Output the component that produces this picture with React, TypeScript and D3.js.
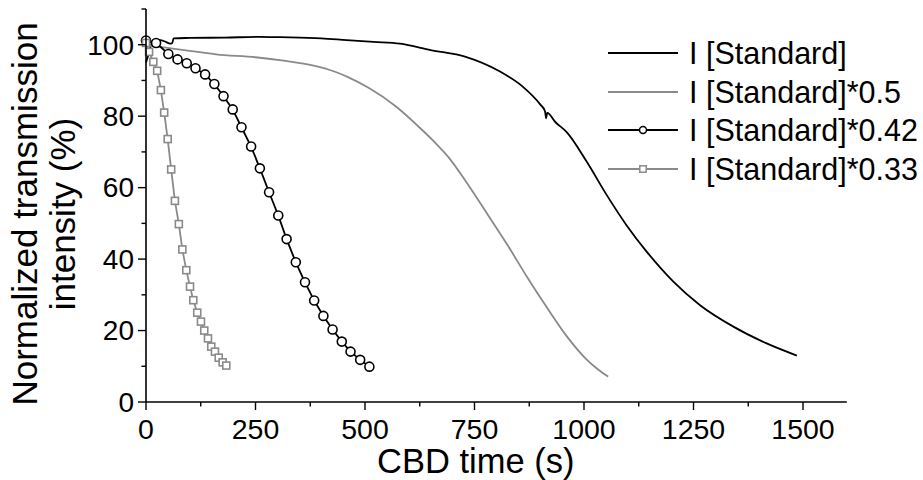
import React from "react";
import * as d3 from "d3";

// ---------- data ----------
const stdT = [0, 5, 12, 20, 32, 45, 55, 60, 63, 100, 180, 260, 306, 400, 458, 520, 580, 650, 730, 805, 858, 900, 911, 913.5, 916, 935, 960, 1006, 1052, 1097, 1143, 1204, 1265, 1341, 1417, 1486];
const stdV = [95, 97, 100, 101, 101.3, 100.8, 100.3, 100.5, 101.8, 101.9, 102, 102.2, 102.1, 101.8, 101.3, 100.8, 100.3, 98.5, 96.6, 92.7, 88.5, 83.3, 81.4, 79.4, 80.9, 78.3, 75.6, 67.3, 57.9, 49.5, 42.1, 33.7, 27.1, 21.1, 16.4, 13];

const halfT = [0, 30, 100, 160, 250, 310, 380, 430, 460, 510, 570, 630, 660, 690, 730, 780, 825, 870, 915, 960, 1005, 1030, 1055];
const halfV = [99.8, 99.4, 98.3, 97.3, 96.5, 95.6, 94.2, 92.5, 91, 87.8, 82.8, 76.2, 72.6, 68.6, 61.8, 52.5, 44, 35, 26.5, 18.5, 12, 9.3, 7.1];

const p42T = [0, 23, 51, 72, 93, 113, 135, 156, 177, 198, 218, 240, 260, 281, 302, 321, 342, 363, 384, 405, 426, 447, 467, 489, 510];
const p42V = [101.2, 100.5, 97.4, 95.9, 94.8, 93.4, 91.7, 89, 85.6, 81.9, 76.9, 71.5, 65.4, 58.7, 52.2, 45.6, 39.1, 33.5, 28.4, 24.1, 20.3, 16.9, 14.1, 11.8, 9.9];

const p33T = [0, 7, 16.7, 25.5, 34, 41.5, 49.5, 57.5, 66, 75, 83, 92, 100.5, 108, 117, 125.5, 133, 141.5, 149, 157.5, 166, 175, 183.3];
const p33V = [100.5, 98, 95.2, 92.7, 87.3, 81, 73.6, 65.1, 56.3, 49.8, 42.7, 36.9, 32.3, 28.5, 25, 22.5, 20, 17.8, 15.5, 14.1, 12.4, 11.1, 10.2];

const xMajor = [0, 250, 500, 750, 1000, 1250, 1500];
const xMinor = [125, 375, 625, 875, 1125, 1375];
const yMajor = [0, 20, 40, 60, 80, 100];
const yMinor = [10, 30, 50, 70, 90, 110];

const legendLabels = ["I [Standard]", "I [Standard]*0.5", "I [Standard]*0.42", "I [Standard]*0.33"];

const BLACK = "#000";
const GRAY = "#8a8a8a";
const FONT = "'Liberation Sans', Arial, Helvetica, sans-serif";

export default function App() {
  const x = d3.scaleLinear().domain([0, 1600]).range([146, 846.8]);
  const y = d3.scaleLinear().domain([0, 110]).range([402, 9]);

  const toPts = (ts: number[], vs: number[]) => ts.map((t, i) => [t, vs[i]] as [number, number]);
  const smooth = d3
    .line<[number, number]>()
    .x((d) => x(d[0]))
    .y((d) => y(d[1]))
    .curve(d3.curveMonotoneX);
  const straight = d3
    .line<[number, number]>()
    .x((d) => x(d[0]))
    .y((d) => y(d[1]));

  const std = toPts(stdT, stdV);
  const half = toPts(halfT, halfV);
  const p42 = toPts(p42T, p42V);
  const p33 = toPts(p33T, p33V);

  const sq = 7;
  const legendRows = [53, 92, 130, 169];
  const legendX1 = 608;
  const legendX2 = 678;
  const legendMid = (legendX1 + legendX2) / 2;

  return (
    <svg
      width={923}
      height={480}
      style={{ position: "absolute", left: 0, top: 0, display: "block", background: "#fff" }}
      fontFamily={FONT}
    >
      <rect x={0} y={0} width={923} height={480} fill="#fff" />

      {/* series */}
      <path d={smooth(std) || ""} fill="none" stroke={BLACK} strokeWidth={1.8} strokeLinejoin="round" />
      <path d={smooth(half) || ""} fill="none" stroke={GRAY} strokeWidth={1.8} strokeLinejoin="round" />
      <path d={straight(p42) || ""} fill="none" stroke={BLACK} strokeWidth={1.8} />
      {p42.map((d, i) => (
        <circle key={"c" + i} cx={x(d[0])} cy={y(d[1])} r={4.5} fill="#fff" stroke={BLACK} strokeWidth={1.6} />
      ))}
      <path d={straight(p33) || ""} fill="none" stroke={GRAY} strokeWidth={1.8} />
      {p33.map((d, i) => (
        <rect
          key={"s" + i}
          x={x(d[0]) - sq / 2}
          y={y(d[1]) - sq / 2}
          width={sq}
          height={sq}
          fill="#fff"
          stroke={GRAY}
          strokeWidth={1.6}
        />
      ))}

      {/* axes */}
      <line x1={x(0)} x2={x(1600)} y1={y(0)} y2={y(0)} stroke={BLACK} strokeWidth={1.6} />
      <line x1={x(0)} x2={x(0)} y1={y(0)} y2={y(110)} stroke={BLACK} strokeWidth={1.6} />
      {xMajor.map((v) => (
        <g key={"xm" + v}>
          <line x1={x(v)} x2={x(v)} y1={y(0)} y2={y(0) + 8} stroke={BLACK} strokeWidth={1.4} />
          <text x={x(v)} y={439} fontSize={28.5} textAnchor="middle" fill={BLACK}>
            {v}
          </text>
        </g>
      ))}
      {xMinor.map((v) => (
        <line key={"xn" + v} x1={x(v)} x2={x(v)} y1={y(0)} y2={y(0) + 4.5} stroke={BLACK} strokeWidth={1.4} />
      ))}
      {yMajor.map((v) => (
        <g key={"ym" + v}>
          <line x1={x(0) - 8} x2={x(0)} y1={y(v)} y2={y(v)} stroke={BLACK} strokeWidth={1.4} />
          <text x={134} y={y(v)} dy="0.35em" fontSize={28} textAnchor="end" fill={BLACK}>
            {v}
          </text>
        </g>
      ))}
      {yMinor.map((v) => (
        <line key={"yn" + v} x1={x(0) - 4.5} x2={x(0)} y1={y(v)} y2={y(v)} stroke={BLACK} strokeWidth={1.4} />
      ))}

      {/* axis titles */}
      <text x={377} y={473} fontSize={34.5} fill={BLACK}>
        CBD time (s)
      </text>
      <g transform="translate(37,214) rotate(-90)">
        <text x={0} y={0} fontSize={35} textAnchor="middle" fill={BLACK}>
          Normalized transmission
        </text>
        <text x={0} y={38} fontSize={35} textAnchor="middle" fill={BLACK}>
          intensity (%)
        </text>
      </g>

      {/* legend */}
      {legendLabels.map((lab, i) => {
        const ly = legendRows[i];
        const col = i % 2 === 0 ? BLACK : GRAY;
        return (
          <g key={"lg" + i}>
            <line x1={legendX1} x2={legendX2} y1={ly} y2={ly} stroke={col} strokeWidth={1.8} />
            {i === 2 && <circle cx={legendMid} cy={ly} r={3.5} fill="#fff" stroke={BLACK} strokeWidth={1.5} />}
            {i === 3 && (
              <rect x={legendMid - 3.2} y={ly - 3.2} width={6.4} height={6.4} fill="#fff" stroke={GRAY} strokeWidth={1.5} />
            )}
            <text x={689} y={ly} dy="0.35em" fontSize={30.5} fill={BLACK}>
              {lab}
            </text>
          </g>
        );
      })}
    </svg>
  );
}
